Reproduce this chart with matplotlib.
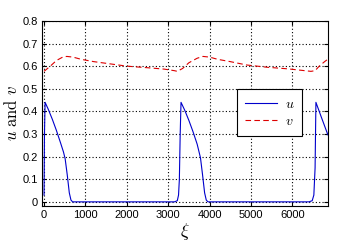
import matplotlib
matplotlib.use('Agg')
import matplotlib.pyplot as plt
import numpy as np

# u (three pulses)
u_xi = [0, 10, 25, 100, 200, 300, 400, 470, 510, 560, 610, 650, 690, 750,
        3150, 3220, 3250, 3270, 3290, 3310, 3400, 3500, 3600, 3700, 3780,
        3830, 3880, 3920, 3960, 4050,
        6400, 6480, 6520, 6550, 6570, 6700, 6860]
u_val = [0.03, 0.3, 0.44, 0.41, 0.365, 0.315, 0.26, 0.22, 0.19, 0.12, 0.04, 0.008, 0.0, 0.0,
         0.0, 0.005, 0.03, 0.1, 0.3, 0.44, 0.405, 0.36, 0.31, 0.255, 0.195,
         0.12, 0.04, 0.008, 0.0, 0.0,
         0.0, 0.005, 0.03, 0.15, 0.44, 0.375, 0.296]

# v
v_xi = [0, 150, 300, 450, 550, 700, 900, 1200, 1600, 2000, 2500, 2900, 3150, 3220,
        3350, 3500, 3700, 3840, 4000, 4200, 4500, 4900, 5400, 5900, 6200, 6450,
        6550, 6650, 6780, 6860]
v_val = [0.577, 0.60, 0.625, 0.64, 0.643, 0.64, 0.63, 0.62, 0.61, 0.60, 0.593, 0.587, 0.58, 0.577,
         0.59, 0.615, 0.635, 0.643, 0.64, 0.63, 0.62, 0.605, 0.595, 0.588, 0.582, 0.577,
         0.58, 0.60, 0.62, 0.631]

xticks = [0, 1000, 2000, 3000, 4000, 5000, 6000]
yticks = [0, 0.1, 0.2, 0.3, 0.4, 0.5, 0.6, 0.7, 0.8]

plt.rcParams['font.family'] = ['Liberation Sans', 'DejaVu Sans']
plt.rcParams['mathtext.fontset'] = 'cm'

fig = plt.figure(figsize=(3.47, 2.49), dpi=100)
ax = fig.add_axes([0.121, 0.173, 0.824, 0.743])

ax.plot(u_xi, u_val, color='#0000cc', lw=0.8, label=r'$u$')
ax.plot(v_xi, v_val, color='#dd0000', lw=0.8, ls=(0, (5, 3)), label=r'$v$')

ax.set_xlim(-50, 6860)
ax.set_ylim(-0.018, 0.8)
ax.set_xticks(xticks)
ax.set_yticks(yticks)
ax.set_xticklabels([str(t) for t in xticks])
ax.set_yticklabels(['0'] + ['%.1f' % t for t in yticks[1:]])
ax.tick_params(direction='in', labelsize=8, length=3, top=True, right=True, pad=3)
ax.grid(True, color='black', ls=(0, (1, 2)), lw=0.8)
for s in ax.spines.values():
    s.set_linewidth(0.8)

ax.set_xlabel(r'$\xi$', fontsize=13, labelpad=1)
ax.set_ylabel(r'$u\ \mathrm{and}\ v$', fontsize=12, labelpad=2)

leg = ax.legend(loc='upper left', bbox_to_anchor=(0.682, 0.632), fontsize=10,
                fancybox=False, edgecolor='black', framealpha=1, borderaxespad=0,
                handlelength=2.3, handletextpad=0.6, borderpad=0.55, labelspacing=0.25)
leg.get_frame().set_linewidth(0.8)

fig.savefig('out.png', dpi=100)
